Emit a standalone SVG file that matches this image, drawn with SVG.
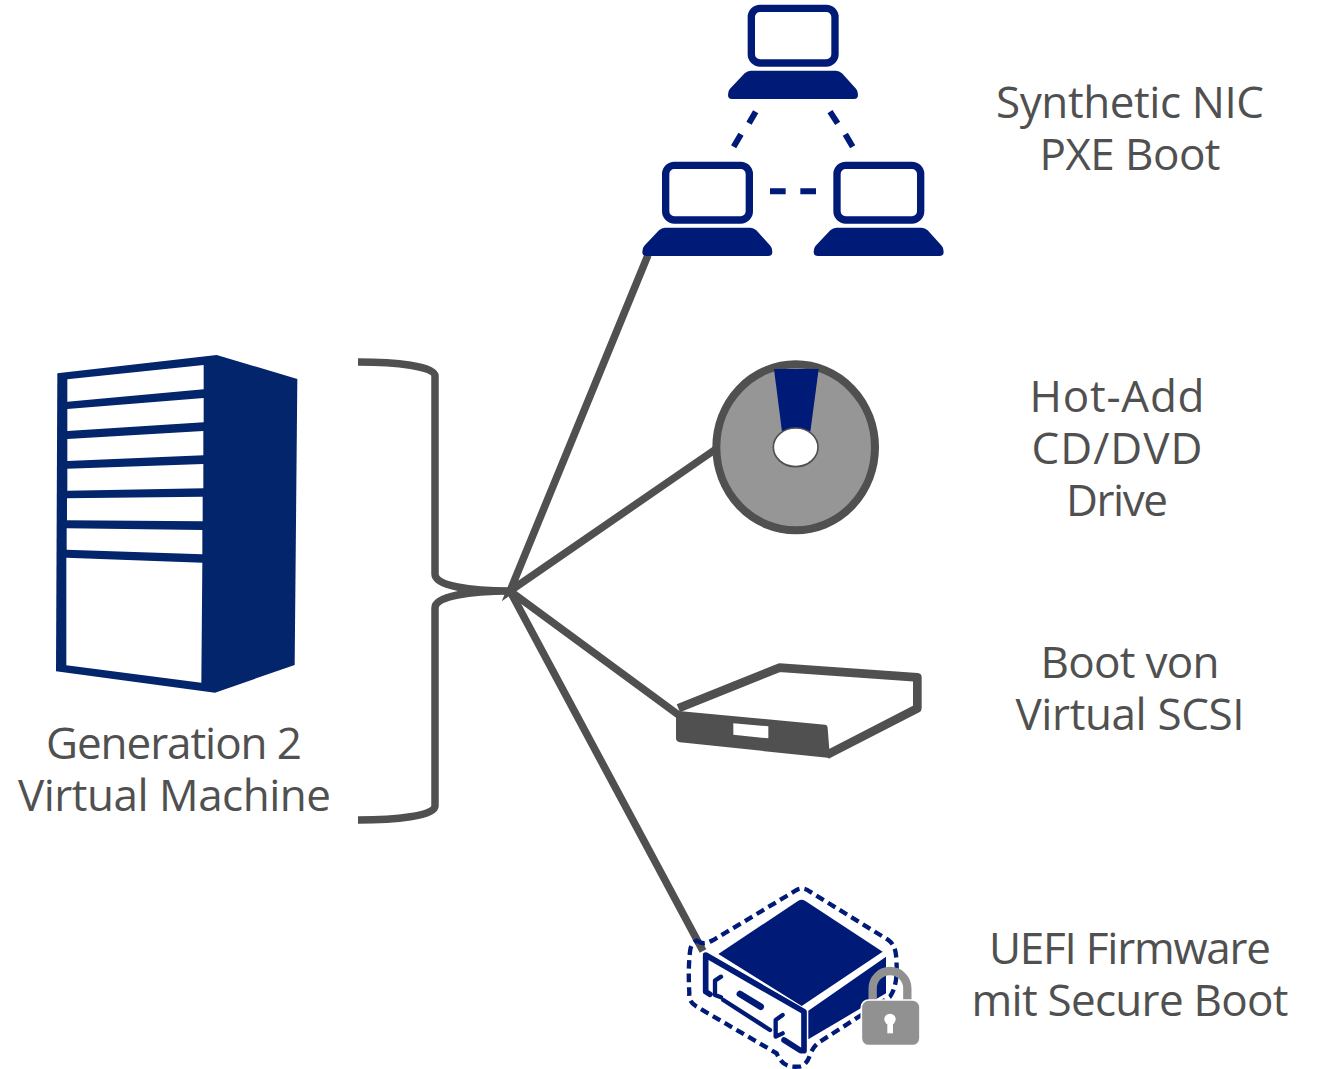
<svg xmlns="http://www.w3.org/2000/svg" xmlns:xlink="http://www.w3.org/1999/xlink" width="1319" height="1069" viewBox="0 0 1319 1069">
<style>
text{font-family:"Open Sans","Noto Sans","Liberation Sans",sans-serif;font-size:44px;fill:#505050;text-anchor:middle}
.c{fill:none;stroke:#505050;stroke-width:7.5}
.navy{fill:#001a78}
.w{fill:#fff}
</style>
<defs>
<g id="laptop">
<rect x="334" y="25" width="251" height="164" rx="26" fill="#fff" stroke="#001a78" stroke-width="22"/>
<path class="navy" d="M332 212H588Q598 212 606 220L648 266Q654 272 654 284Q654 297 642 297H276Q264 297 264 284Q264 272 270 266L314 220Q322 212 332 212Z"/>
</g>
</defs>
<rect width="1319" height="1069" fill="#fff"/>
<g id="connectors">
<path class="c" d="M358 362C395 362 435 366 435 376V574C435 586 470 591 510 591C470 591 435 596 435 608V806C435 816 395 820 358 820"/>
<path class="c" d="M648 255L510 591L716 449M510 591L680 716M510 591L703 951"/>
</g>
<g id="server" transform="translate(40 340) scale(.33333)">
<path fill="#03256c" d="M52 100L530 45L772 117L764 975L525 1058L48 994Z"/>
<path class="w" d="M82 118L491 75V148L82 185ZM82 207L491 174V247L82 273ZM82 297L490 273V346L82 363ZM82 386L490 372V445L82 452ZM81 475L488 470V544L81 541ZM80 565L487 570V643L80 629ZM79 653L487 668L484 1028L79 976Z"/>
</g>
<g id="label-vm"><text x="174" y="759" textLength="256">Generation 2</text><text x="174.500" y="811" textLength="313">Virtual Machine</text></g>
<g id="pxe" transform="translate(640 0) scale(.33333)">
<use xlink:href="#laptop" href="#laptop"/>
<use xlink:href="#laptop" href="#laptop" transform="translate(-257 471)"/>
<use xlink:href="#laptop" href="#laptop" transform="translate(257 471)"/>
<path fill="none" stroke="#001a78" stroke-width="18" d="M347 335L327 370M303 403L281 440M570 335L593 370M616 403L638 440M390 574H437M481 574H528"/>
</g>
<g id="label-pxe"><text x="1130" y="118" textLength="268">Synthetic NIC</text><text x="1130" y="170" textLength="181">PXE Boot</text></g>
<g id="disk" transform="translate(700 350) scale(.33333)">
<ellipse cx="287" cy="292" rx="238" ry="249" fill="#969696" stroke="#505050" stroke-width="24"/>
<path class="navy" d="M222 57H356L331 245H246Z"/>
<ellipse cx="287" cy="292" rx="67" ry="58" fill="#fff" stroke="#505050" stroke-width="5"/>
</g>
<g id="label-disk"><text x="1117" y="412" textLength="175">Hot-Add</text><text x="1117" y="464" textLength="171">CD/DVD</text><text x="1117" y="516" textLength="102">Drive</text></g>
<g id="scsi" transform="translate(660 650) scale(.33333)">
<path fill="#fff" stroke="#505050" stroke-width="26" stroke-linejoin="round" d="M55 175L358 53L772 82V175L500 315"/>
<path fill="#505050" d="M48 182L495 224Q503 225 503 235L510 324L60 277Q48 276 48 265Z"/>
<path class="w" d="M220 220L325 229V265L220 254Z"/>
</g>
<g id="label-scsi"><text x="1130" y="678" textLength="179">Boot von</text><text x="1130" y="730" textLength="229">Virtual SCSI</text></g>
<g id="uefi" transform="translate(660 880) scale(.33333)">
<path fill="none" stroke="#001a78" stroke-width="13" stroke-dasharray="26 15" d="M110 182C130 195 140 190 160 180L410 30Q430 20 450 35L685 180Q705 195 708 225C712 270 712 320 690 350L480 485Q460 497 450 525Q438 560 415 560C385 562 365 555 350 520L110 380Q85 365 88 340C86 300 85 260 90 215Q92 190 110 182Z"/>
<path class="navy" d="M175 222L415 62Q425 56 435 62L668 215L425 378ZM445 392L678 230V340L445 478Z"/>
<path fill="#fff" d="M138 225L430 395L425 510L138 340Z"/>
<path fill="none" stroke="#001a78" stroke-width="17" stroke-linejoin="round" stroke-linecap="round" d="M150 343L137 335V225L432 395V512L422 512L372 480"/>
<path fill="none" stroke="#001a78" stroke-width="13" stroke-linecap="round" stroke-linejoin="round" d="M183 290L165 302V345L183 352M190 360L330 450M368 405L347 420V470L368 460"/>
<path fill="none" stroke="#001a78" stroke-width="20" stroke-linecap="round" d="M240 342L302 380"/>
<path fill="none" stroke="#919191" stroke-width="25" d="M638 362V325A52 52 0 0 1 742 325V362"/>
<rect x="604" y="360" width="176" height="137" rx="22" fill="#919191" stroke="#fff" stroke-width="5"/>
<circle cx="690" cy="418" r="17" fill="#fff"/>
<rect x="682" y="425" width="17" height="35" fill="#fff"/>
</g>
<g id="label-uefi"><text x="1130" y="964" textLength="282">UEFI Firmware</text><text x="1130" y="1016" textLength="317">mit Secure Boot</text></g>
</svg>
